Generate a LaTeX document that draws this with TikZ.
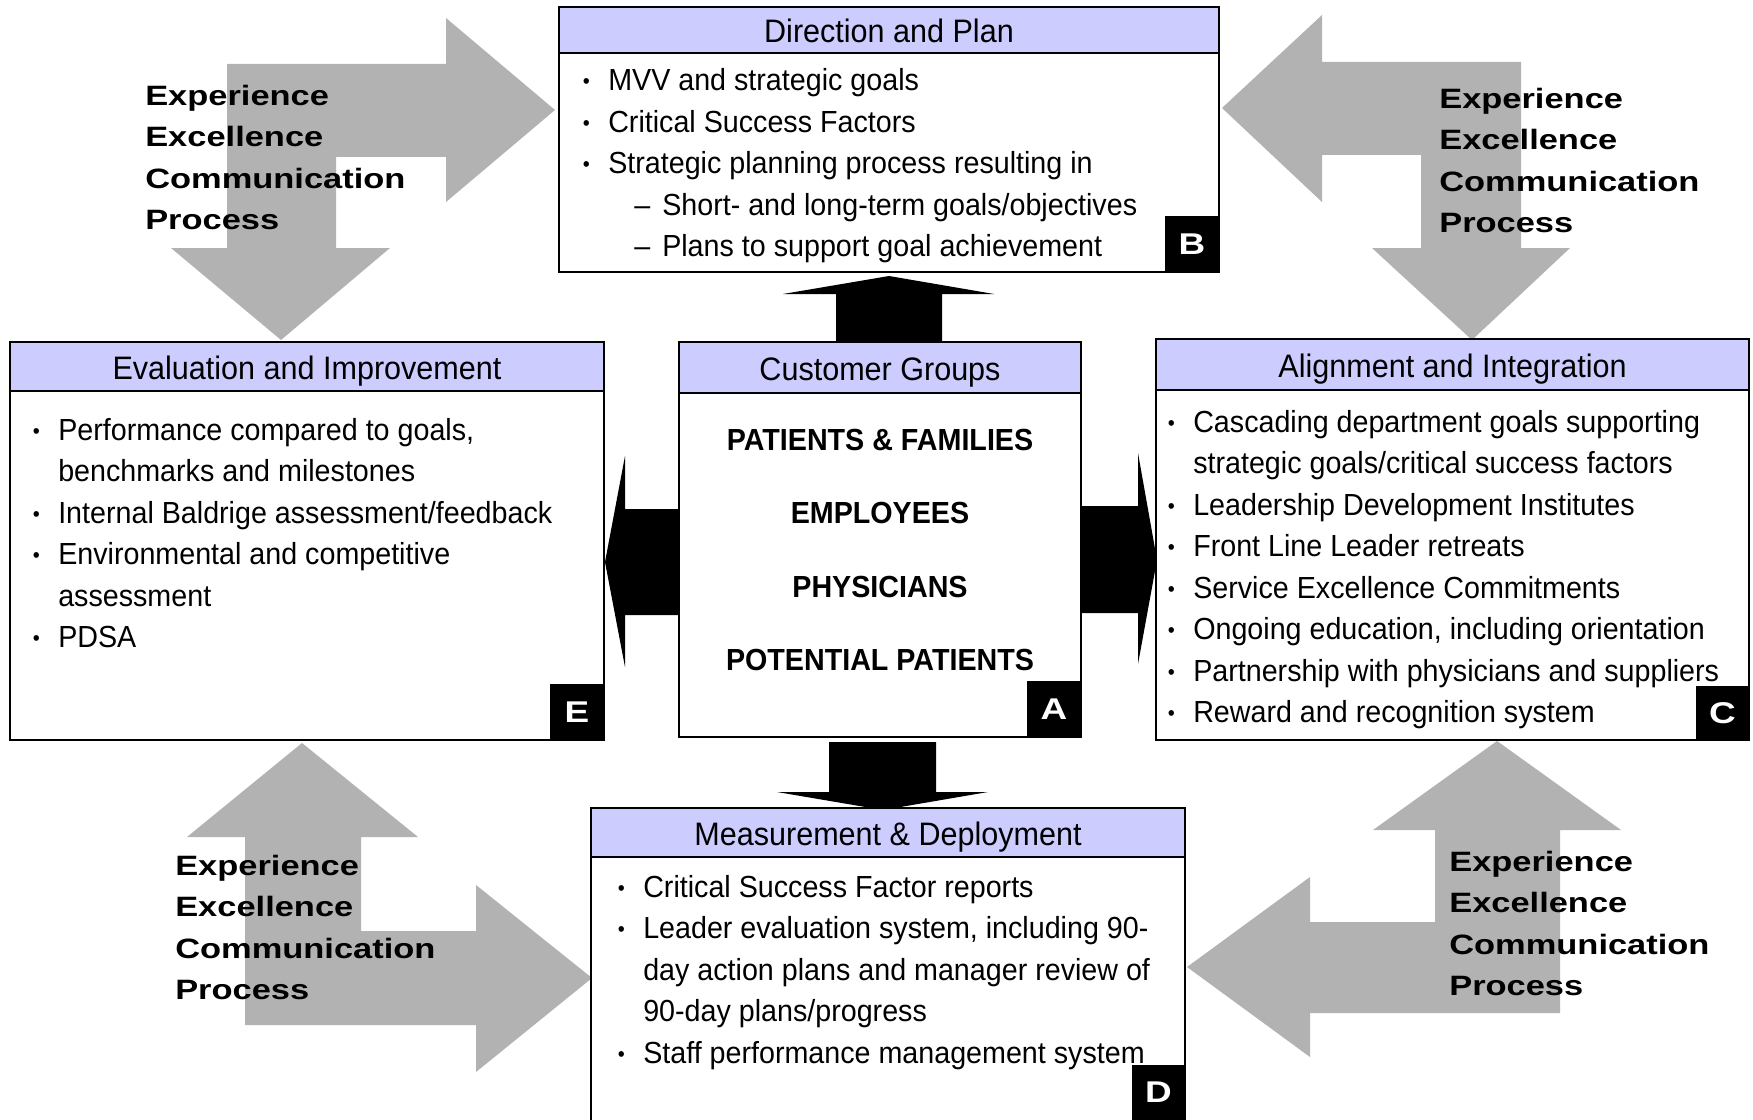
\documentclass[tikz,border=0pt]{standalone}
\usepackage{fontspec}
\setmainfont{Liberation Sans}
\newfontfamily\nar[FakeStretch=0.94]{Liberation Sans}
\newfontfamily\wid[FakeStretch=1.23]{Liberation Sans}
\usetikzlibrary{fit,calc}
\definecolor{hdrc}{HTML}{CCCCFF}
\definecolor{garr}{HTML}{B2B2B2}
\newcommand\bodyfont{\nar\fontsize{22.875pt}{31.125pt}\selectfont}
\newcommand\cgfont{\nar\bfseries\fontsize{22.875pt}{31.125pt}\selectfont}
\newcommand\titlefont{\nar\fontsize{24.375pt}{30pt}\selectfont}
\newcommand\eecfont{\wid\bfseries\fontsize{21pt}{31.125pt}\selectfont}
\newcommand\ltrfont{\wid\bfseries\fontsize{22.5pt}{26pt}\selectfont}
\newcommand\bul{\llap{\makebox[0pt]{\raisebox{1.5pt}{\fontsize{16pt}{16pt}\selectfont\textbullet}}\hspace{16.5pt}}}
\newcommand\subd{\hspace*{40.5pt}\llap{–\hspace{9pt}}}
\newcommand\lines[1]{\vtop{\baselineskip=31.125pt\lineskiplimit=-50pt\lineskip=0pt #1}}
\newcommand\tline[1]{\hbox{#1}}
\begin{document}
\begin{tikzpicture}[x=0.75pt,y=-0.75pt,
  box/.style={draw=black,line width=1.6pt,fill=white,inner sep=0pt},
  hbox/.style={draw=black,line width=1.6pt,fill=hdrc,inner sep=0pt},
  sq/.style={fill=black,draw=none,inner sep=0pt},
  ltr/.style={text=white,font=\ltrfont,inner sep=0pt},
  txt/.style={inner sep=0pt,anchor=base west},
  ttl/.style={inner sep=0pt,anchor=base,font=\titlefont},
  cg/.style={inner sep=0pt,anchor=base,font=\cgfont},
  garrow/.style={fill=garr,draw=none},
  barrow/.style={fill=black,draw=none}]
\useasboundingbox (0,0) rectangle (1753,1120);
\clip (0,0) rectangle (1753,1120);
\fill[white] (0,0) rectangle (1753,1120);

% ---------- gray bent arrows ----------
\fill[garrow] (227,64) -- (446,64) -- (446,18) -- (555,110) -- (446,202) -- (446,157) -- (336,157) -- (336,248) -- (390,248) -- (281,340) -- (171,248) -- (227,248) -- cycle;
\fill[garrow] (1521,62) -- (1322,62) -- (1322,15) -- (1222,108) -- (1322,202) -- (1322,155) -- (1421,155) -- (1421,248) -- (1372,248) -- (1472,340) -- (1570,248) -- (1521,248) -- cycle;
\fill[garrow] (245,1025) -- (245,837) -- (187,837) -- (302,743) -- (418,837) -- (361,837) -- (361,931) -- (476,931) -- (476,885) -- (592,978) -- (476,1072) -- (476,1025) -- cycle;
\fill[garrow] (1560,1013) -- (1560,830) -- (1621,830) -- (1497,741) -- (1373,830) -- (1435,830) -- (1435,922) -- (1310,922) -- (1310,877) -- (1187,967) -- (1310,1057) -- (1310,1013) -- cycle;

\node[txt,font=\eecfont] (eTL) at (145,105.5) {\lines{\tline{Experience}\tline{Excellence}\tline{Communication}\tline{Process}}};
\node[txt,font=\eecfont] (eTR) at (1439,108.5) {\lines{\tline{Experience}\tline{Excellence}\tline{Communication}\tline{Process}}};
\node[txt,font=\eecfont] (eBL) at (175,875) {\lines{\tline{Experience}\tline{Excellence}\tline{Communication}\tline{Process}}};
\node[txt,font=\eecfont] (eBR) at (1449,871) {\lines{\tline{Experience}\tline{Excellence}\tline{Communication}\tline{Process}}};

% ---------- black arrows from A ----------
\fill[barrow] (836,341) -- (836,294) -- (783,294) -- (889,276) -- (994,294) -- (942,294) -- (942,341) -- cycle;
\fill[barrow] (829,742) -- (829,792) -- (777,792) -- (883,810) -- (988,792) -- (936,792) -- (936,742) -- cycle;
\fill[barrow] (679,509) -- (625,509) -- (625,456) -- (605,562) -- (625,667) -- (625,615) -- (679,615) -- cycle;
\fill[barrow] (1081,506) -- (1138,506) -- (1138,453) -- (1157,560) -- (1138,664) -- (1138,613) -- (1081,613) -- cycle;

% ---------- Box B ----------
\coordinate (B1) at (559,7); \coordinate (B2) at (1219,272); \coordinate (Bh) at (1219,53); \coordinate (Bs) at (1165,216);
\node[box,fit=(B1)(B2)] (B) {};
\node[hbox,fit=(B1)(Bh)] (Bhead) {};
\node[ttl] (Bt) at (889,42.5) {Direction and Plan};
\node[txt,font=\bodyfont] (Bb) at (608,91) {\lines{%
\tline{\bul MVV and strategic goals}%
\tline{\bul Critical Success Factors}%
\tline{\bul Strategic planning process resulting in}%
\tline{\subd Short- and long-term goals/objectives}%
\tline{\subd Plans to support goal achievement}}};
\node[sq,fit=(Bs)(B2)] (Bsq) {};
\node[ltr] (Bl) at (Bsq.center) {B};

% ---------- Box E ----------
\coordinate (E1) at (10,342); \coordinate (E2) at (604,740); \coordinate (Eh) at (604,391); \coordinate (Es) at (550,684);
\node[box,fit=(E1)(E2)] (E) {};
\node[hbox,fit=(E1)(Eh)] (Ehead) {};
\node[ttl] (Et) at (307,379) {Evaluation and Improvement};
\node[txt,font=\bodyfont] (Eb) at (58,440) {\lines{%
\tline{\bul Performance compared to goals,}%
\tline{benchmarks and milestones}%
\tline{\bul Internal Baldrige assessment/feedback}%
\tline{\bul Environmental and competitive}%
\tline{assessment}%
\tline{\bul PDSA}}};
\node[sq,fit=(Es)(E2)] (Esq) {};
\node[ltr] (El) at (Esq.center) {E};

% ---------- Box A ----------
\coordinate (A1) at (679,342); \coordinate (A2) at (1081,737); \coordinate (Ah) at (1081,393); \coordinate (As) at (1027,681);
\node[box,fit=(A1)(A2)] (A) {};
\node[hbox,fit=(A1)(Ah)] (Ahead) {};
\node[ttl] (At) at (880,380) {Customer Groups};
\node[cg] (A1t) at (880,450) {PATIENTS \& FAMILIES};
\node[cg] (A2t) at (880,523) {EMPLOYEES};
\node[cg] (A3t) at (880,597) {PHYSICIANS};
\node[cg] (A4t) at (880,670) {POTENTIAL PATIENTS};
\node[sq,fit=(As)(A2)] (Asq) {};
\node[ltr] (Al) at (Asq.center) {A};

% ---------- Box C ----------
\coordinate (C1) at (1156,339); \coordinate (C2) at (1749,740); \coordinate (Ch) at (1749,390); \coordinate (Cs) at (1696,686);
\node[box,fit=(C1)(C2)] (C) {};
\node[hbox,fit=(C1)(Ch)] (Chead) {};
\node[ttl] (Ct) at (1452.5,377) {Alignment and Integration};
\node[txt,font=\bodyfont] (Cb) at (1193,432) {\lines{%
\tline{\bul Cascading department goals supporting}%
\tline{strategic goals/critical success factors}%
\tline{\bul Leadership Development Institutes}%
\tline{\bul Front Line Leader retreats}%
\tline{\bul Service Excellence Commitments}%
\tline{\bul Ongoing education, including orientation}%
\tline{\bul Partnership with physicians and suppliers}%
\tline{\bul Reward and recognition system}}};
\node[sq,fit=(Cs)(C2)] (Csq) {};
\node[ltr] (Cl) at (Csq.center) {C};

% ---------- Box D ----------
\coordinate (D1) at (591,808); \coordinate (D2) at (1185,1126); \coordinate (Dh) at (1185,857); \coordinate (Ds) at (1132,1065);
\node[box,fit=(D1)(D2)] (D) {};
\node[hbox,fit=(D1)(Dh)] (Dhead) {};
\node[ttl] (Dt) at (888,845) {Measurement \& Deployment};
\node[txt,font=\bodyfont] (Db) at (643,897) {\lines{%
\tline{\bul Critical Success Factor reports}%
\tline{\bul Leader evaluation system, including 90-}%
\tline{day action plans and manager review of}%
\tline{90-day plans/progress}%
\tline{\bul Staff performance management system}}};
\coordinate (Dsb) at (1185,1120);
\node[sq,fit=(Ds)(D2)] (Dsq) {};
\node[ltr] (Dl) at ($(Ds)!0.5!(Dsb)$) {D};
\end{tikzpicture}
\end{document}
